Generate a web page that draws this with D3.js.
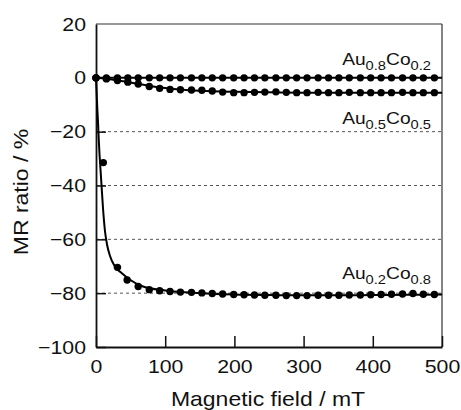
<!DOCTYPE html>
<html>
<head>
<meta charset="utf-8">
<script src="https://cdn.jsdelivr.net/npm/d3@7"></script>
<style>
  html, body { margin: 0; padding: 0; background: #fff; }
  svg { display: block; }
  text { font-family: "Liberation Sans", Arial, sans-serif; fill: #111; }
</style>
</head>
<body>
<svg id="chart" width="461" height="410"></svg>
<script>
// ---------- data ----------
const xTicks = [0, 100, 200, 300, 400, 500];
const yTicks = [-100, -80, -60, -40, -20, 0, 20];
const gridLevels = [-20, -40, -60, -80];

// Au0.8Co0.2 measured points
const fieldA = [0, 15, 31, 46, 61, 77, 92, 107, 122, 138, 153, 168, 183, 199, 214, 229, 244,
                260, 275, 290, 305, 321, 336, 351, 366, 382, 397, 412, 427, 443, 458, 473, 489];
const mrA    = [0, 0, 0, 0, 0, 0, 0, 0, 0, 0, 0, 0, 0, 0, 0, 0, 0,
                0, 0, 0, 0, 0, 0, 0, 0, 0, 0, 0, 0, 0, 0, 0, 0];
// Au0.8Co0.2 fit
const fitFieldA = [0, 500];
const fitMrA    = [0, 0];

// Au0.5Co0.5 measured points
const fieldB = [0, 15, 31, 46, 61, 77, 92, 107, 122, 138, 153, 168, 183, 199, 214, 229, 244,
                260, 275, 290, 305, 321, 336, 351, 366, 382, 397, 412, 427, 443, 458, 473, 489];
const mrB    = [0, -0.4, -1.0, -1.6, -2.3, -3.2, -3.9, -4.3, -4.4, -4.5, -4.6, -4.9, -5.3, -5.5, -5.5, -5.4, -5.3,
                -5.2, -5.4, -5.5, -5.5, -5.4, -5.5, -5.5, -5.4, -5.5, -5.5, -5.5, -5.5, -5.4, -5.5, -5.5, -5.5];
// Au0.5Co0.5 fit
const fitFieldB = [0, 20, 40, 60, 80, 100, 120, 150, 200, 250, 300, 400, 500];
const fitMrB    = [0, -0.5, -1.3, -2.2, -3.1, -3.8, -4.3, -4.8, -5.2, -5.4, -5.5, -5.5, -5.5];

// Au0.2Co0.8 measured points
const fieldC = [0, 10.6, 31, 45, 61, 77, 92, 107, 122, 138, 153, 168, 183, 199, 214, 229, 244,
                260, 275, 290, 305, 321, 336, 351, 366, 382, 397, 412, 427, 443, 458, 473, 489];
const mrC    = [0, -31.5, -70.4, -75.1, -77.5, -78.7, -79.1, -79.4, -79.6, -79.7, -79.9, -80.1, -80.3, -80.5, -80.6, -80.7, -80.8,
                -80.8, -80.9, -80.9, -80.9, -80.8, -80.8, -80.8, -80.7, -80.7, -80.6, -80.5, -80.4, -80.3, -80.1, -80.4, -80.5];
// Au0.2Co0.8 fit
const fitFieldC = [0, 1, 2, 3, 4, 5, 6, 8, 10, 13, 16, 20, 27, 37, 49, 68, 100, 150, 200, 250, 300, 350, 400, 450, 500];
const fitMrC    = [0, -6, -12, -17, -23, -28, -32, -40, -48, -57, -62, -66, -70, -72.5, -75, -77.5, -79, -80, -80.5, -80.7, -80.8, -80.8, -80.7, -80.6, -80.5];

const labels = [
  { main1: "Au", sub1: "0.8", main2: "Co", sub2: "0.2", y: 4.8 },
  { main1: "Au", sub1: "0.5", main2: "Co", sub2: "0.5", y: -17 },
  { main1: "Au", sub1: "0.2", main2: "Co", sub2: "0.8", y: -74.6 }
];

// ---------- layout ----------
const svg = d3.select("#chart");
const x = d3.scaleLinear().domain([0, 500]).range([96, 442]);
const y = d3.scaleLinear().domain([-100, 20]).range([347, 24]);
const SX_TICK = 1.12, SX_LABEL = 1.13, SX_TITLE = 1.15;

// grid
svg.append("g").selectAll("line").data(gridLevels).join("line")
  .attr("x1", x(0)).attr("x2", x(500))
  .attr("y1", d => y(d)).attr("y2", d => y(d))
  .attr("stroke", "#555").attr("stroke-width", 1)
  .attr("stroke-dasharray", "3,3");

// frame top/right
svg.append("line").attr("x1", x(0)).attr("x2", x(500)).attr("y1", y(20)).attr("y2", y(20))
  .attr("stroke", "#333").attr("stroke-width", 1.2);
svg.append("line").attr("x1", x(500)).attr("x2", x(500)).attr("y1", y(20)).attr("y2", y(-100))
  .attr("stroke", "#333").attr("stroke-width", 1.2);

// axes
const xAxis = d3.axisBottom(x).tickValues(xTicks).tickSizeInner(-11).tickSizeOuter(0).tickPadding(13);
const yAxis = d3.axisLeft(y).tickValues(yTicks).tickSizeInner(-10).tickSizeOuter(0).tickPadding(10);

const gx = svg.append("g").attr("transform", `translate(0,${y(-100)})`).call(xAxis);
const gy = svg.append("g").attr("transform", `translate(${x(0)},0)`).call(yAxis);
[gx, gy].forEach(g => {
  g.select(".domain").attr("stroke", "#111").attr("stroke-width", 1.8);
  g.selectAll(".tick line").attr("stroke", "#111").attr("stroke-width", 1.5);
  g.selectAll(".tick text").attr("font-size", 19).attr("fill", "#111")
    .attr("font-family", "\"Liberation Sans\", Arial, sans-serif")
    .attr("transform", `scale(${SX_TICK},1)`);
});
gy.selectAll(".tick text").attr("x", -10 / SX_TICK);
gy.selectAll(".tick").filter(d => d === 20).select("line").remove();

// fit lines
const line = d3.line().x(d => x(d[0])).y(d => y(d[1])).curve(d3.curveMonotoneX);
[[fitFieldA, fitMrA], [fitFieldB, fitMrB], [fitFieldC, fitMrC]].forEach(([f, m]) => {
  svg.append("path").datum(f.map((v, i) => [v, m[i]]))
    .attr("d", line).attr("fill", "none").attr("stroke", "#000").attr("stroke-width", 2);
});

// points
[[fieldA, mrA], [fieldB, mrB], [fieldC, mrC]].forEach(([f, m]) => {
  svg.append("g").selectAll("circle").data(f.map((v, i) => [v, m[i]])).join("circle")
    .attr("cx", d => x(d[0])).attr("cy", d => y(d[1])).attr("r", 3.7).attr("fill", "#000");
});

// series labels
labels.forEach(l => {
  const t = svg.append("text")
    .attr("transform", `translate(431,${y(l.y)}) scale(${SX_LABEL},1)`)
    .attr("text-anchor", "end").attr("font-size", 17);
  t.append("tspan").text(l.main1);
  t.append("tspan").text(l.sub1).attr("font-size", 13).attr("dy", 5);
  t.append("tspan").text(l.main2).attr("dy", -5);
  t.append("tspan").text(l.sub2).attr("font-size", 13).attr("dy", 5);
});

// axis titles
svg.append("text").attr("transform", `translate(268,406) scale(${SX_TITLE},1)`)
  .attr("text-anchor", "middle").attr("font-size", 20).text("Magnetic field / mT");
svg.append("text").attr("transform", `translate(28,192) rotate(-90) scale(${SX_TITLE},1)`)
  .attr("text-anchor", "middle").attr("font-size", 20).text("MR ratio / %");
</script>
</body>
</html>
